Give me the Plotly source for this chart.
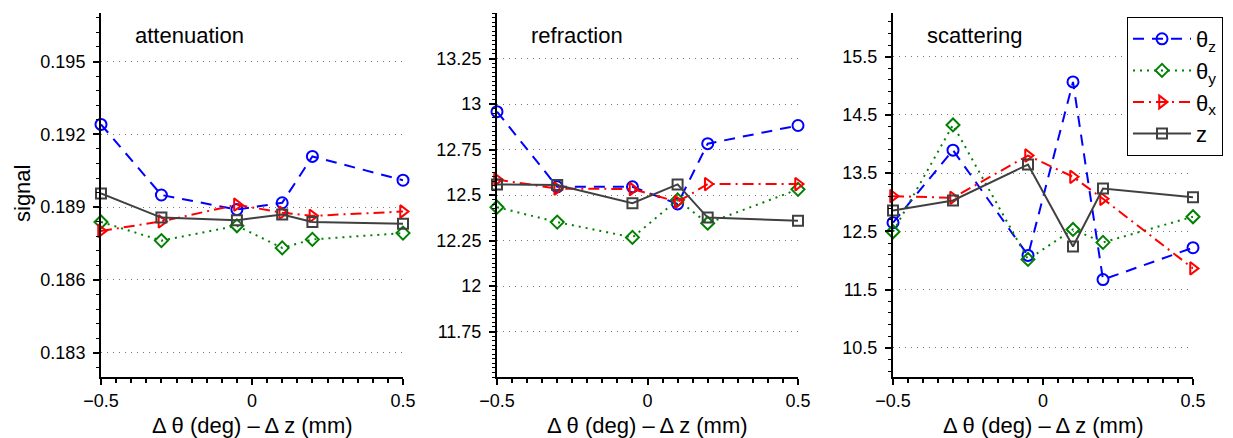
import plotly.graph_objects as go

W, H = 1233, 438

x_vals = [-0.5, -0.3, -0.05, 0.1, 0.2, 0.5]

series_names = ["θ<sub>z</sub>", "θ<sub>y</sub>", "θ<sub>x</sub>", "z"]

# attenuation panel
att_theta_z = [0.19241, 0.18950, 0.18890, 0.18918, 0.19109, 0.19011]
att_theta_y = [0.18839, 0.18762, 0.18823, 0.18732, 0.18767, 0.18793]
att_theta_x = [0.18802, 0.18841, 0.18910, 0.18877, 0.18864, 0.18882]
att_z = [0.18956, 0.18857, 0.18846, 0.18870, 0.18839, 0.18832]

# refraction panel
ref_theta_z = [12.958, 12.545, 12.545, 12.451, 12.782, 12.882]
ref_theta_y = [12.433, 12.351, 12.267, 12.473, 12.345, 12.531]
ref_theta_x = [12.585, 12.535, 12.533, 12.462, 12.560, 12.560]
ref_z = [12.558, 12.555, 12.455, 12.558, 12.376, 12.358]

# scattering panel
sca_theta_z = [12.649, 13.895, 12.088, 15.067, 11.672, 12.220]
sca_theta_y = [12.494, 14.328, 12.019, 12.534, 12.311, 12.752]
sca_theta_x = [13.105, 13.077, 13.803, 13.437, 13.060, 11.865]
sca_z = [12.859, 13.031, 13.649, 12.242, 13.237, 13.088]

panel_titles = ["attenuation", "refraction", "scattering"]
x_tickvals = [-0.5, 0, 0.5]
x_ticktext = ["\u22120.5", "0", "0.5"]
att_ticks = [0.183, 0.186, 0.189, 0.192, 0.195]
ref_ticks = [11.75, 12, 12.25, 12.5, 12.75, 13, 13.25]
sca_ticks = [10.5, 11.5, 12.5, 13.5, 14.5, 15.5]
x_title = "\u0394 \u03b8 (deg) \u2013 \u0394 z (mm)"
y_title = "signal"

FONT = "Liberation Sans, Arial, Helvetica, sans-serif"

styles = [
    dict(color="#0000ff", dash="11px,8px", symbol="circle-open", size=11),
    dict(color="#008000", dash="2px,5px", symbol="diamond-open", size=10),
    dict(color="#ff0000", dash="11px,5px,2px,5px", symbol="triangle-right-open", size=11),
    dict(color="#404040", dash="solid", symbol="square-open", size=10),
]

panels = [
    ([att_theta_z, att_theta_y, att_theta_x, att_z], att_ticks, [0.182, 0.197], 0.0006,
     [f"{v:.3f}" for v in att_ticks]),
    ([ref_theta_z, ref_theta_y, ref_theta_x, ref_z], ref_ticks, [11.5, 13.5], 0.025,
     ["11.75", "12", "12.25", "12.5", "12.75", "13", "13.25"]),
    ([sca_theta_z, sca_theta_y, sca_theta_x, sca_z], sca_ticks, [10.0, 16.25], 0.2,
     [f"{v:g}" for v in sca_ticks]),
]

# pixel extents of plot areas
x_px = [(101, 403), (497, 798), (893, 1193)]
y_top_px, y_bot_px = 13, 377
y_dom = [(H - y_bot_px) / H, (H - y_top_px) / H]

fig = go.Figure()
layout = dict(
    template="none",
    width=W, height=H,
    margin=dict(l=0, r=0, t=0, b=0, pad=0, autoexpand=False),
    paper_bgcolor="white", plot_bgcolor="white",
    font=dict(family=FONT, size=18, color="black"),
    showlegend=True,
    legend=dict(
        x=1127 / W, y=(H - 17) / H, xanchor="left", yanchor="top",
        bordercolor="black", borderwidth=1, bgcolor="white",
        font=dict(size=22, family=FONT), itemwidth=58,
        tracegroupgap=13, traceorder="normal",
    ),
    annotations=[],
)

for i, (series, ticks, yrange, ydminor, ytext) in enumerate(panels):
    xa = "x" if i == 0 else f"x{i+1}"
    ya = "y" if i == 0 else f"y{i+1}"
    xkey = "xaxis" if i == 0 else f"xaxis{i+1}"
    ykey = "yaxis" if i == 0 else f"yaxis{i+1}"
    for j, (vals, st) in enumerate(zip(series, styles)):
        fig.add_trace(go.Scatter(
            x=x_vals, y=vals, xaxis=xa, yaxis=ya,
            mode="lines+markers", name=series_names[j],
            legendgroup=f"g{j}",
            showlegend=(i == 2), cliponaxis=False,
            line=dict(color=st["color"], dash=st["dash"], width=2),
            marker=dict(symbol=st["symbol"], size=st["size"], color=st["color"],
                        line=dict(color=st["color"], width=2)),
        ))
    x0, x1 = x_px[i]
    layout[xkey] = dict(
        domain=[x0 / W, x1 / W], range=[-0.5, 0.5], anchor=ya, automargin=False,
        showline=True, linecolor="black", linewidth=2, mirror=False,
        showgrid=False, zeroline=False,
        tickmode="array", tickvals=x_tickvals, ticktext=x_ticktext,
        ticks="outside", ticklen=6, tickwidth=1.5, tickcolor="black",
        ticklabelstandoff=0,
        minor=dict(dtick=0.05, tick0=-0.5, ticks="outside", ticklen=4,
                   tickwidth=1.5, tickcolor="black", showgrid=False),
        tickfont=dict(size=18),
    )
    layout[ykey] = dict(
        domain=y_dom, range=yrange, anchor=xa, automargin=False,
        showline=True, linecolor="black", linewidth=2, mirror=False,
        showgrid=True, gridcolor="#777777", gridwidth=1, griddash="1px,5px",
        zeroline=False,
        tickmode="array", tickvals=ticks, ticktext=ytext,
        ticks="outside", ticklen=6, tickwidth=1.5, tickcolor="black",
        ticklabelstandoff=4,
        minor=dict(dtick=ydminor, tick0=ticks[0], ticks="outside", ticklen=3,
                   tickwidth=1.2, tickcolor="black", showgrid=False),
        tickfont=dict(size=18),
    )
    layout["annotations"].append(dict(
        text=panel_titles[i], xref="paper", yref="paper",
        x=(x0 + 32) / W, y=(H - 35) / H, xanchor="left", yanchor="middle",
        showarrow=False, font=dict(size=22, family=FONT),
    ))
    layout["annotations"].append(dict(
        text=x_title, xref="paper", yref="paper",
        x=(x0 + x1) / 2 / W, y=(H - 425) / H, xanchor="center", yanchor="middle",
        showarrow=False, font=dict(size=22, family=FONT),
    ))

layout["annotations"].append(dict(
    text=y_title, xref="paper", yref="paper",
    x=22 / W, y=(H - 194) / H, xanchor="center", yanchor="middle",
    textangle=-90, showarrow=False, font=dict(size=22, family=FONT),
))

fig.update_layout(**layout)
fig.write_html(
    "out.html",
    config={"displayModeBar": False},
    post_script="document.body.style.margin='0px';document.body.style.padding='0px';"
                "document.body.style.overflow='hidden';",
)
